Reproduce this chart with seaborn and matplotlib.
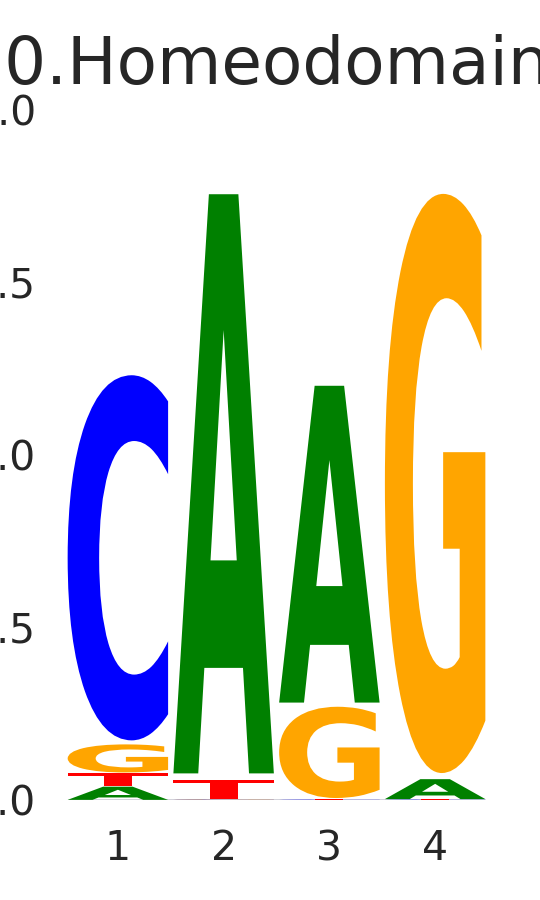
import numpy as np
import pandas as pd
import seaborn as sns
import matplotlib
matplotlib.use("Agg")
import matplotlib.pyplot as plt
from matplotlib.textpath import TextPath
from matplotlib.patches import PathPatch
from matplotlib.font_manager import FontProperties
from matplotlib.transforms import Affine2D

# ---- data (information content, bits) ----
positions = [1, 2, 3, 4]
height_A = [0.039, 1.713, 0.937, 0.059]
height_C = [1.080, 0.001, 0.001, 0.001]
height_G = [0.083, 0.001, 0.270, 1.713]
height_T = [0.040, 0.058, 0.002, 0.001]
title_text = "10.Homeodomain"
ytick_values = [0.0, 0.5, 1.0, 1.5, 2.0]
ytick_labels = ["0.0", "0.5", "1.0", "1.5", "2.0"]

letter_colors = {"A": "#008000", "C": "#0000ff", "G": "#ffa500", "T": "#ff0000"}
LETTER_WIDTH = 0.95
VPAD = 0.02

df = pd.DataFrame({"pos": positions, "A": height_A, "C": height_C,
                   "G": height_G, "T": height_T}).set_index("pos")

sns.set_theme(style="white")
plt.rcParams["font.family"] = ["DejaVu Sans"]

fig = plt.figure(figsize=(5.4, 9.0), dpi=100)
ax = fig.add_axes([65 / 540, 100 / 900, (488 - 65) / 540, (800 - 110) / 900])

fp = FontProperties(family="DejaVu Sans", weight="bold")
glyphs = {L: TextPath((0, 0), L, size=1, prop=fp) for L in "ACGT"}


def draw_letter(L, xc, bottom, h):
    path = glyphs[L]
    ext = path.get_extents()
    x0, y0, x1, y1 = ext.x0, ext.y0, ext.x1, ext.y1
    pad = VPAD * h / 2
    hh = h - 2 * pad
    if hh <= 0:
        return
    t = (Affine2D().translate(-x0, -y0)
         .scale(LETTER_WIDTH / (x1 - x0), hh / (y1 - y0))
         .translate(xc - LETTER_WIDTH / 2, bottom + pad))
    p = t.transform_path(path)
    ax.add_patch(PathPatch(p, facecolor=letter_colors[L], edgecolor="none",
                           linewidth=0, zorder=3))


for pos, row in df.iterrows():
    order = row.sort_values(kind="stable")
    bottom = 0.0
    for L, h in order.items():
        draw_letter(L, pos, bottom, h)
        bottom += h

ax.hlines(0, positions[0] - LETTER_WIDTH / 2, positions[-1] + LETTER_WIDTH / 2,
          color="#20204a", linewidth=1.0, zorder=2)

ax.set_xlim(0.5, 4.5)
ax.set_ylim(0, 2.0)
ax.set_xticks(positions)
ax.set_xticklabels([str(p) for p in positions])
ax.set_yticks(ytick_values)
ax.set_yticklabels(ytick_labels)
ax.tick_params(axis="both", labelsize=29.5, length=0, pad=21, colors="#262626")
sns.despine(ax=ax, left=True, bottom=True)
ax.set_title(title_text, fontsize=47.5, pad=19, color="#262626", x=0.454)

fig.savefig("out.png", dpi=100)
